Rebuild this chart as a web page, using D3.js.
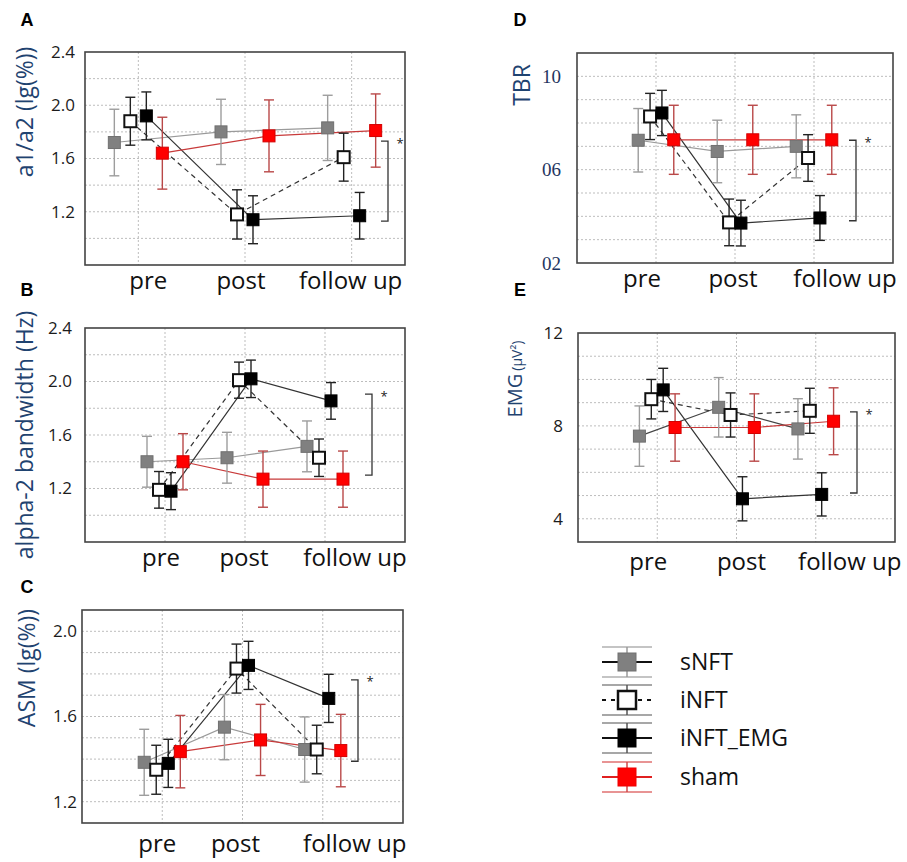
<!DOCTYPE html>
<html>
<head>
<meta charset="utf-8">
<script src="https://cdn.jsdelivr.net/npm/d3@7"></script>
<style>
  body { margin: 0; background: #fff; }
  svg { display: block; font-family: "Open Sans", sans-serif; }
</style>
</head>
<body>
<svg id="chart" width="907" height="862"></svg>
<script>
// groups and time points
const groups = ["sNFT", "iNFT", "iNFT_EMG", "sham"];
const phases = ["pre", "post", "follow up"];

// A: a1/a2 (rows follow groups, columns follow phases)
const a1a2Mean = [[1.72, 1.80, 1.83], [1.88, 1.18, 1.61], [1.92, 1.14, 1.17], [1.64, 1.77, 1.81]];
const a1a2Err = [[0.25, 0.245, 0.245], [0.18, 0.185, 0.18], [0.18, 0.18, 0.175], [0.27, 0.27, 0.275]];

// B: alpha-2 bandwidth
const bandMean = [[1.40, 1.43, 1.515], [1.19, 2.01, 1.43], [1.18, 2.02, 1.855], [1.40, 1.27, 1.27]];
const bandErr = [[0.19, 0.19, 0.19], [0.137, 0.135, 0.14], [0.138, 0.14, 0.137], [0.21, 0.21, 0.21]];

// C: ASM
const asmMean = [[1.385, 1.55, 1.445], [1.35, 1.825, 1.445], [1.38, 1.84, 1.685], [1.435, 1.49, 1.44]];
const asmErr = [[0.155, 0.153, 0.153], [0.115, 0.115, 0.114], [0.113, 0.113, 0.113], [0.17, 0.167, 0.17]];

// D: TBR
const tbrMean = [[7.26, 6.78, 7.0], [8.28, 3.74, 6.5], [8.43, 3.71, 3.93], [7.28, 7.28, 7.28]];
const tbrErr = [[1.36, 1.34, 1.35], [0.99, 1.0, 1.0], [0.97, 0.98, 0.96], [1.48, 1.48, 1.48]];

// E: EMG
const emgMean = [[7.56, 8.8, 7.87], [9.15, 8.47, 8.65], [9.55, 4.86, 5.05], [7.93, 7.93, 8.2]];
const emgErr = [[1.3, 1.28, 1.3], [0.85, 0.95, 0.97], [0.93, 0.95, 0.93], [1.45, 1.45, 1.44]];

// significance brackets (value range per panel)
const bracketA = [1.73, 1.13];
const bracketB = [1.905, 1.30];
const bracketC = [1.772, 1.39];
const bracketD = [7.26, 3.81];
const bracketE = [8.6, 5.11];

const style = {
  sNFT: { fill: "#808080", stroke: "#707070", line: "#9a9a9a", err: "#9d9d9d", dash: null },
  iNFT: { fill: "#fff", stroke: "#111", line: "#333", err: "#222", dash: "5,4" },
  iNFT_EMG: { fill: "#000", stroke: "#000", line: "#333", err: "#222", dash: null },
  sham: { fill: "#ff0000", stroke: "#d40000", line: "#c83a3a", err: "#b94848", dash: null }
};
const groupShift = [-0.225, -0.075, 0.075, 0.225]; // fraction of category step

const titleColor = "#1f4370";
const f1 = d3.format(".1f");

const panels = [
  { letter: "A", letterPos: [27, 20], title: "a1/a2 (lg(%))", titlePos: [25, 112],
    mean: a1a2Mean, err: a1a2Err, domain: [0.8, 2.4], step: 0.2, ticks: [1.2, 1.6, 2.0, 2.4], fmt: f1,
    box: [85, 52, 405, 265], pad: 0.5, tickGap: 10, labelY: 289, labelDx: [10, -4, -1],
    bracket: bracketA, bracketDx: 17 },
  { letter: "B", letterPos: [27, 290], title: "alpha-2 bandwidth (Hz)", titlePos: [25, 435],
    mean: bandMean, err: bandErr, domain: [0.8, 2.4], step: 0.2, ticks: [1.2, 1.6, 2.0, 2.4], fmt: f1,
    box: [85, 328, 405, 542], pad: 1, tickGap: 13, labelY: 566, labelDx: [-4, -1, 30],
    bracket: bracketB, bracketDx: 33 },
  { letter: "C", letterPos: [27, 587], title: "ASM (lg(%))", titlePos: [27, 668],
    mean: asmMean, err: asmErr, domain: [1.1, 2.1], step: 0.1, ticks: [1.2, 1.6, 2.0], fmt: f1,
    box: [82, 610, 403, 823], pad: 1, tickGap: 5, labelY: 852, labelDx: [-5, -7, 32],
    bracket: bracketC, bracketDx: 45 },
  { letter: "D", letterPos: [520, 20], title: "TBR", titlePos: [522, 85],
    mean: tbrMean, err: tbrErr, domain: [2, 11], step: 1, ticks: [2, 6, 10], fmt: d3.format("02d"),
    tickFont: "'Liberation Serif', serif", tickSize: 19, tickColor: "#1f3560",
    box: [577, 53, 893, 263], pad: 1, tickGap: 16, labelY: 287, labelDx: [-14, -2, 31],
    bracket: bracketD, bracketDx: 37 },
  { letter: "E", letterPos: [520, 290], title: "EMG", unit: "(\u03bcV\u00b2)", titlePos: [515, 379],
    mean: emgMean, err: emgErr, domain: [3, 12], step: 1, ticks: [4, 8, 12], fmt: d3.format("d"),
    box: [578, 333, 895, 542], pad: 1, tickGap: 15, labelY: 570, labelDx: [-9, 5, 34],
    bracket: bracketE, bracketDx: 38, sNFTLine: "#444" }
];

const svg = d3.select("#chart");

function drawPanel(p) {
  const [x0, y0, x1, y1] = p.box;
  const g = svg.append("g").attr("class", "panel");

  const x = d3.scalePoint().domain(phases).range([x0, x1]).padding(p.pad);
  const y = d3.scaleLinear().domain(p.domain).range([y1, y0]);
  const stepPx = x.step();

  // plot area
  g.append("rect").attr("x", x0).attr("y", y0).attr("width", x1 - x0).attr("height", y1 - y0)
    .attr("fill", "#fff");

  // grid
  const gridVals = d3.range(p.domain[0] + p.step, p.domain[1] - p.step / 2, p.step);
  g.append("g").selectAll("line").data(gridVals).join("line")
    .attr("x1", x0).attr("x2", x1)
    .attr("y1", (d) => y(d)).attr("y2", (d) => y(d))
    .attr("stroke", "#bdbdbd").attr("stroke-width", 1).attr("stroke-dasharray", "2,2");
  g.append("g").selectAll("line").data(phases).join("line")
    .attr("x1", (d) => x(d)).attr("x2", (d) => x(d))
    .attr("y1", y0).attr("y2", y1)
    .attr("stroke", "#bdbdbd").attr("stroke-width", 1).attr("stroke-dasharray", "2,2");

  g.append("rect").attr("x", x0).attr("y", y0).attr("width", x1 - x0).attr("height", y1 - y0)
    .attr("fill", "none").attr("stroke", "#444").attr("stroke-width", 1.6);

  // y tick labels
  g.append("g").selectAll("text").data(p.ticks).join("text")
    .attr("x", x0 - p.tickGap).attr("y", (d) => y(d))
    .attr("dy", "0.35em").attr("text-anchor", "end")
    .style("font-family", p.tickFont || null)
    .attr("font-size", p.tickSize || 17).attr("fill", p.tickColor || "#1c1c1c")
    .text((d) => p.fmt(d));

  // x labels
  g.append("g").selectAll("text").data(phases).join("text")
    .attr("x", (d, i) => x(d) + p.labelDx[i]).attr("y", p.labelY)
    .attr("text-anchor", "middle").attr("font-size", 24).attr("fill", "#111")
    .text((d) => d);

  // axis title
  const t = g.append("text")
    .attr("transform", `translate(${p.titlePos[0]},${p.titlePos[1]}) rotate(-90)`)
    .attr("text-anchor", "middle").attr("dy", "0.35em")
    .attr("fill", titleColor).attr("font-size", p.unit ? 20 : 23);
  t.append("tspan").text(p.title);
  if (p.unit) t.append("tspan").attr("font-size", 14).attr("dx", 3).text(p.unit);

  // panel letter
  g.append("text").attr("x", p.letterPos[0]).attr("y", p.letterPos[1])
    .attr("dy", "0.35em").attr("text-anchor", "middle")
    .style("font-family", "'Liberation Sans', Arial, sans-serif")
    .attr("font-weight", "bold").attr("font-size", 18).attr("fill", "#000")
    .text(p.letter);

  const series = groups.map((name, gi) => ({
    name,
    pts: phases.map((ph, pi) => ({
      px: x(ph) + groupShift[gi] * stepPx,
      m: p.mean[gi][pi],
      e: p.err[gi][pi]
    }))
  }));

  const line = d3.line().x((d) => d.px).y((d) => y(d.m));

  // connecting lines
  g.append("g").selectAll("path").data(series).join("path")
    .attr("d", (s) => line(s.pts))
    .attr("fill", "none")
    .attr("stroke", (s) => (s.name === "sNFT" && p.sNFTLine) ? p.sNFTLine : style[s.name].line)
    .attr("stroke-width", 1.2)
    .attr("stroke-dasharray", (s) => style[s.name].dash);

  // error bars + markers
  const capW = 5;
  const sg = g.append("g").selectAll("g").data(series).join("g");
  sg.each(function (s) {
    const el = d3.select(this);
    const st = style[s.name];
    s.pts.forEach((d) => {
      el.append("line").attr("x1", d.px).attr("x2", d.px)
        .attr("y1", y(d.m + d.e)).attr("y2", y(d.m - d.e))
        .attr("stroke", st.err).attr("stroke-width", 1.4);
      [d.m + d.e, d.m - d.e].forEach((v) => {
        el.append("line").attr("x1", d.px - capW).attr("x2", d.px + capW)
          .attr("y1", y(v)).attr("y2", y(v))
          .attr("stroke", st.err).attr("stroke-width", 1.4);
      });
    });
    el.selectAll("rect.mk").data(s.pts).join("rect").attr("class", "mk")
      .attr("x", (d) => d.px - 6).attr("y", (d) => y(d.m) - 6)
      .attr("width", 12).attr("height", 12)
      .attr("fill", st.fill).attr("stroke", st.stroke)
      .attr("stroke-width", s.name === "iNFT" ? 2 : 1);
  });

  // significance bracket
  const bx = x1 - p.bracketDx;
  const [bTop, bBot] = p.bracket;
  g.append("path")
    .attr("d", `M${bx - 7},${y(bTop)}H${bx}V${y(bBot)}H${bx - 7}`)
    .attr("fill", "none").attr("stroke", "#333").attr("stroke-width", 1.3);
  g.append("text").attr("x", bx + 12).attr("y", y(bTop) + 2)
    .attr("dy", "0.35em").attr("text-anchor", "middle")
    .attr("font-size", 13).attr("fill", "#222").text("*");
}

panels.forEach(drawPanel);

// legend
const legend = svg.append("g").attr("transform", "translate(627,0)");
const rowY = [662, 700, 738, 777];
const capColor = { sNFT: "#b0b0b0", iNFT: "#8a8a8a", iNFT_EMG: "#8a8a8a", sham: "#e07070" };
const stemColor = { sNFT: "#9a9a9a", iNFT: "#555", iNFT_EMG: "#555", sham: "#d04848" };
const legLine = { sNFT: "#111", iNFT: "#111", iNFT_EMG: "#111", sham: "#e02020" };

groups.forEach((name, i) => {
  const cy = rowY[i];
  const st = style[name];
  const row = legend.append("g");
  [-15, 15].forEach((dy) => {
    row.append("line").attr("x1", -25).attr("x2", 25).attr("y1", cy + dy).attr("y2", cy + dy)
      .attr("stroke", capColor[name]).attr("stroke-width", 1.5);
  });
  row.append("line").attr("x1", 0).attr("x2", 0).attr("y1", cy - 15).attr("y2", cy + 15)
    .attr("stroke", stemColor[name]).attr("stroke-width", 1.5);
  row.append("line").attr("x1", -25).attr("x2", 25).attr("y1", cy).attr("y2", cy)
    .attr("stroke", legLine[name]).attr("stroke-width", 2)
    .attr("stroke-dasharray", st.dash ? "4,5" : null);
  row.append("rect").attr("x", -9).attr("y", cy - 9).attr("width", 18).attr("height", 18)
    .attr("fill", st.fill).attr("stroke", name === "sham" ? "#e00" : st.stroke)
    .attr("stroke-width", name === "iNFT" ? 2.5 : 1);
  row.append("text").attr("x", 53).attr("y", cy).attr("dy", "0.35em")
    .attr("font-size", 23).attr("fill", "#111").text(name);
});
</script>
</body>
</html>
